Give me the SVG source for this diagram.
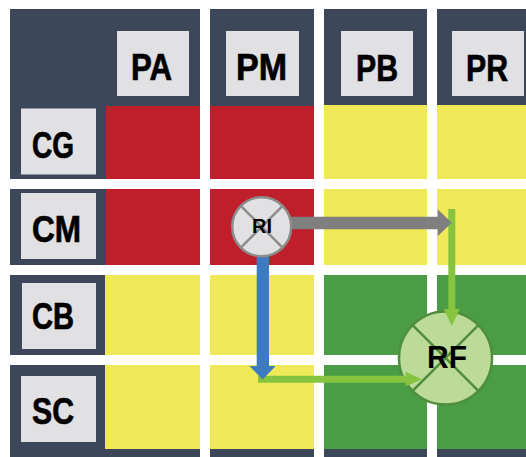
<svg xmlns="http://www.w3.org/2000/svg" width="526" height="457" viewBox="0 0 526 457">
  <style>
    .panel { fill: #3c475a; }
    .box { fill: #e1e1e3; }
    .red { fill: #be1f2a; }
    .yellow { fill: #f0e957; }
    .green { fill: #4a9d44; }
    .lbl { font-family: "Liberation Sans", Arial, sans-serif; font-weight: bold; font-size: 37px; fill: #000; stroke: #000; stroke-width: 0.7px; }
    .node-text { font-family: "Liberation Sans", Arial, sans-serif; font-weight: bold; fill: #000; text-anchor: middle; }
  </style>
  <rect width="526" height="457" fill="#ffffff"/>

  <!-- column headers -->
  <g id="header-corner-PA">
    <rect class="panel" x="10" y="9" width="190" height="170"/>
    <rect class="box" x="117" y="31" width="72" height="65"/>
    <text class="lbl" x="131" y="80" textLength="41" lengthAdjust="spacingAndGlyphs">PA</text>
  </g>
  <g id="header-PM">
    <rect class="panel" x="210" y="9" width="104" height="97"/>
    <rect class="box" x="226" y="31" width="73" height="65"/>
    <text class="lbl" x="236" y="79.5" textLength="51" lengthAdjust="spacingAndGlyphs">PM</text>
  </g>
  <g id="header-PB">
    <rect class="panel" x="324" y="9" width="103" height="97"/>
    <rect class="box" x="341" y="31" width="72" height="65"/>
    <text class="lbl" x="356" y="80.5" textLength="42" lengthAdjust="spacingAndGlyphs">PB</text>
  </g>
  <g id="header-PR">
    <rect class="panel" x="437" y="9" width="89" height="97"/>
    <rect class="box" x="452" y="31" width="72" height="65"/>
    <text class="lbl" x="466" y="80.5" textLength="42" lengthAdjust="spacingAndGlyphs">PR</text>
  </g>

  <!-- row CG -->
  <g id="row-CG">
    <rect class="box" x="21" y="108.5" width="75" height="66"/>
    <text class="lbl" x="32" y="158.3" textLength="42" lengthAdjust="spacingAndGlyphs">CG</text>
    <rect class="red" x="106" y="106" width="94" height="73"/>
    <rect class="red" x="210" y="106" width="104" height="73"/>
    <rect class="yellow" x="324" y="105" width="103" height="74"/>
    <rect class="yellow" x="437" y="105" width="89" height="74"/>
  </g>

  <!-- row CM -->
  <g id="row-CM">
    <rect class="panel" x="10" y="189" width="96" height="76"/>
    <rect class="box" x="21" y="193" width="75" height="66"/>
    <text class="lbl" x="32" y="242.3" textLength="49" lengthAdjust="spacingAndGlyphs">CM</text>
    <rect class="red" x="106" y="189" width="94" height="76"/>
    <rect class="red" x="210" y="189" width="104" height="76"/>
    <rect class="yellow" x="324" y="189" width="103" height="76"/>
    <rect class="yellow" x="437" y="189" width="89" height="76"/>
  </g>

  <!-- row CB -->
  <g id="row-CB">
    <rect class="panel" x="10" y="275" width="95" height="80"/>
    <rect class="box" x="22" y="283" width="74" height="66"/>
    <text class="lbl" x="32" y="328.7" textLength="42" lengthAdjust="spacingAndGlyphs">CB</text>
    <rect class="yellow" x="105" y="275" width="95" height="80"/>
    <rect class="yellow" x="210" y="275" width="104" height="80"/>
    <rect class="green" x="324" y="275" width="103" height="80"/>
    <rect class="green" x="437" y="275" width="89" height="80"/>
  </g>

  <!-- row SC with bottom strip -->
  <g id="row-SC">
    <rect class="panel" x="10" y="365" width="190" height="92"/>
    <rect class="panel" x="210" y="365" width="104" height="92"/>
    <rect class="panel" x="324" y="365" width="103" height="92"/>
    <rect class="panel" x="437" y="365" width="89" height="92"/>
    <rect class="box" x="21" y="376" width="75" height="66"/>
    <text class="lbl" x="32" y="423.7" textLength="42" lengthAdjust="spacingAndGlyphs">SC</text>
    <rect class="yellow" x="105" y="365" width="95" height="84"/>
    <rect class="yellow" x="210" y="365" width="104" height="84"/>
    <rect class="green" x="324" y="365" width="103" height="84"/>
    <rect class="green" x="437" y="365" width="89" height="84"/>
  </g>

  <!-- RF node -->
  <g id="node-RF">
    <circle cx="445.5" cy="358" r="46.5" fill="#bcdb98" stroke="#4f8e3e" stroke-width="2.5"/>
    <line x1="412.6" y1="325.1" x2="478.4" y2="390.9" stroke="#4f8e3e" stroke-width="2.5"/>
    <line x1="478.4" y1="325.1" x2="412.6" y2="390.9" stroke="#4f8e3e" stroke-width="2.5"/>
    <text class="node-text" x="447" y="368.3" font-size="31.5" textLength="40" lengthAdjust="spacingAndGlyphs">RF</text>
  </g>

  <!-- connectors -->
  <g id="connectors">
    <!-- green path: down the PR column into RF -->
    <polygon fill="#86c440" points="448.3,209 455.3,209 455.3,309 459.8,309 451.8,326 443.8,309 448.3,309"/>
    <!-- green path: along the SC row into RF -->
    <polygon fill="#86c440" points="258,375.7 405.7,375.7 405.7,371.8 421.7,379.2 405.7,386.6 405.7,382.7 258,382.7"/>
    <!-- gray arrow: RI toward PR -->
    <polygon fill="#7f7f7f" points="285,216.7 437.7,216.7 437.7,209.3 451.7,222.8 437.7,236.3 437.7,229.3 285,229.3"/>
    <!-- blue arrow: RI down to SC -->
    <polygon fill="#3c7bc0" points="256.7,250 269,250 269,366 275.7,366 262.6,379.5 249.4,366 256.7,366"/>
  </g>

  <!-- RI node -->
  <g id="node-RI">
    <circle cx="261.7" cy="226.7" r="29.5" fill="#e1e1e3" stroke="#8c8c8c" stroke-width="2.5"/>
    <line x1="240.8" y1="205.8" x2="282.6" y2="247.6" stroke="#8c8c8c" stroke-width="2.5"/>
    <line x1="282.6" y1="205.8" x2="240.8" y2="247.6" stroke="#8c8c8c" stroke-width="2.5"/>
    <text class="node-text" x="262" y="233.3" font-size="19.5" textLength="20" lengthAdjust="spacingAndGlyphs">RI</text>
  </g>
</svg>
